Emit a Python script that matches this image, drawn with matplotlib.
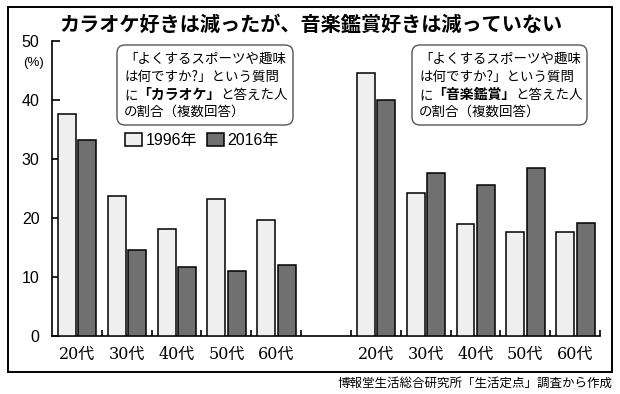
import matplotlib
matplotlib.use("Agg")
import matplotlib.pyplot as plt
from matplotlib.patches import Rectangle, FancyBboxPatch
from matplotlib.transforms import IdentityTransform

plt.rcParams['font.family'] = ['Liberation Sans', 'Noto Sans CJK JP', 'DejaVu Sans']

# ---- data ----
ages = ['20代', '30代', '40代', '50代', '60代']
karaoke_1996 = [37.7, 23.7, 18.1, 23.2, 19.7]
karaoke_2016 = [33.3, 14.6, 11.7, 11.1, 12.0]
music_1996 = [44.6, 24.3, 19.0, 17.6, 17.7]
music_2016 = [40.0, 27.7, 25.6, 28.4, 19.1]
series_labels = ['1996年', '2016年']
yticks = [0, 10, 20, 30, 40, 50]
title = 'カラオケ好きは減ったが、音楽鑑賞好きは減っていない'
source = '博報堂生活総合研究所「生活定点」調査から作成'

W, H = 620, 394
fig = plt.figure(figsize=(W / 100, H / 100), dpi=100)
fig.patch.set_facecolor('white')

# outer frame
fig.add_artist(Rectangle((8, H - 372), 604, 365, transform=IdentityTransform(),
                         fill=False, edgecolor='black', linewidth=1.4))

ax = fig.add_axes([52 / W, (H - 336) / H, 548 / W, 295 / H])
light, dark = '#efefef', '#707070'
bw = 0.36
left_pos = [0, 1, 2, 3, 4]
right_pos = [6, 7, 8, 9, 10]
b1 = ax.bar([p - 0.2 for p in left_pos], karaoke_1996, bw, color=light, edgecolor='black', linewidth=1.1, zorder=3)
b2 = ax.bar([p + 0.21 for p in left_pos], karaoke_2016, bw, color=dark, edgecolor='black', linewidth=1.1, zorder=3)
ax.bar([p - 0.2 for p in right_pos], music_1996, bw, color=light, edgecolor='black', linewidth=1.1, zorder=3)
ax.bar([p + 0.21 for p in right_pos], music_2016, bw, color=dark, edgecolor='black', linewidth=1.1, zorder=3)

ax.set_xlim(-0.5, 10.5)
ax.set_ylim(0, 50)
for s in ['top', 'right']:
    ax.spines[s].set_visible(False)
for s in ['left', 'bottom']:
    ax.spines[s].set_linewidth(1.2)
ax.set_yticks(yticks)
ax.set_yticklabels([str(v) for v in yticks], fontsize=11.5)
ax.tick_params(axis='y', direction='in', length=6, width=1.2, pad=9)
ax.set_xticks(left_pos + right_pos)
ax.set_xticklabels(ages + ages, family=['DejaVu Serif', 'Noto Sans CJK JP'], fontsize=11.5)
ax.tick_params(axis='x', which='major', length=0, pad=7)
ax.set_xticks([0.5, 1.5, 2.5, 3.5, 4.5, 5.5, 6.5, 7.5, 8.5, 9.5, 10.5], minor=True)
ax.tick_params(axis='x', which='minor', direction='in', length=4, width=1.2)

fig.text(33 / W, 1 - 63 / H, '(%)', fontsize=9.5, ha='center', va='center')

fig.text(311 / W, 1 - 24 / H, title, fontsize=14.5, fontweight='bold', ha='center', va='center',
         family=['Noto Sans CJK JP'])

fig.text(612 / W, 1 - 383 / H, source, fontsize=9, ha='right', va='center',
         family=['Noto Sans CJK JP'])

# legend
leg = ax.legend([b1, b2], series_labels, ncol=2, frameon=False, fontsize=11.5,
                handlelength=1.05, handleheight=0.8, columnspacing=0.6, handletextpad=0.25,
                loc='upper left', bbox_to_anchor=(125 / W, 1 - 133 / H),
                bbox_transform=fig.transFigure, borderaxespad=0, borderpad=0)

# annotation boxes
fig.canvas.draw()
renderer = fig.canvas.get_renderer()
fs = 9.7
cjk = ['Noto Sans CJK JP']

def box(x0, x1, ytop, ybot, keyword):
    fig.add_artist(FancyBboxPatch((x0, H - ybot), x1 - x0, ybot - ytop,
                                  boxstyle='round,pad=0,rounding_size=8',
                                  transform=IdentityTransform(), facecolor='white',
                                  edgecolor='#555555', linewidth=1.0, zorder=5))
    tx = x0 + 7
    lines_y = [59, 77, 95, 112]
    fig.text(tx / W, 1 - lines_y[0] / H, '「よくするスポーツや趣味', fontsize=fs, va='center', family=cjk, zorder=6)
    fig.text(tx / W, 1 - lines_y[1] / H, 'は何ですか?」という質問', fontsize=fs, va='center', family=cjk, zorder=6)
    segs = [('に', 'normal'), ('「' + keyword + '」', 'bold'), ('と答えた人', 'normal')]
    cx = tx
    for s, w in segs:
        t = fig.text(cx / W, 1 - lines_y[2] / H, s, fontsize=fs if w == 'normal' else fs + 0.3,
                     fontweight=w, va='center', family=cjk, zorder=6)
        ext = t.get_window_extent(renderer)
        cx = ext.x1
    fig.text(tx / W, 1 - lines_y[3] / H, 'の割合（複数回答）', fontsize=fs, va='center', family=cjk, zorder=6)

box(117, 293, 45, 125, 'カラオケ')
box(412, 587, 45, 125, '音楽鑑賞')

fig.savefig('out.png', dpi=100, facecolor='white')
